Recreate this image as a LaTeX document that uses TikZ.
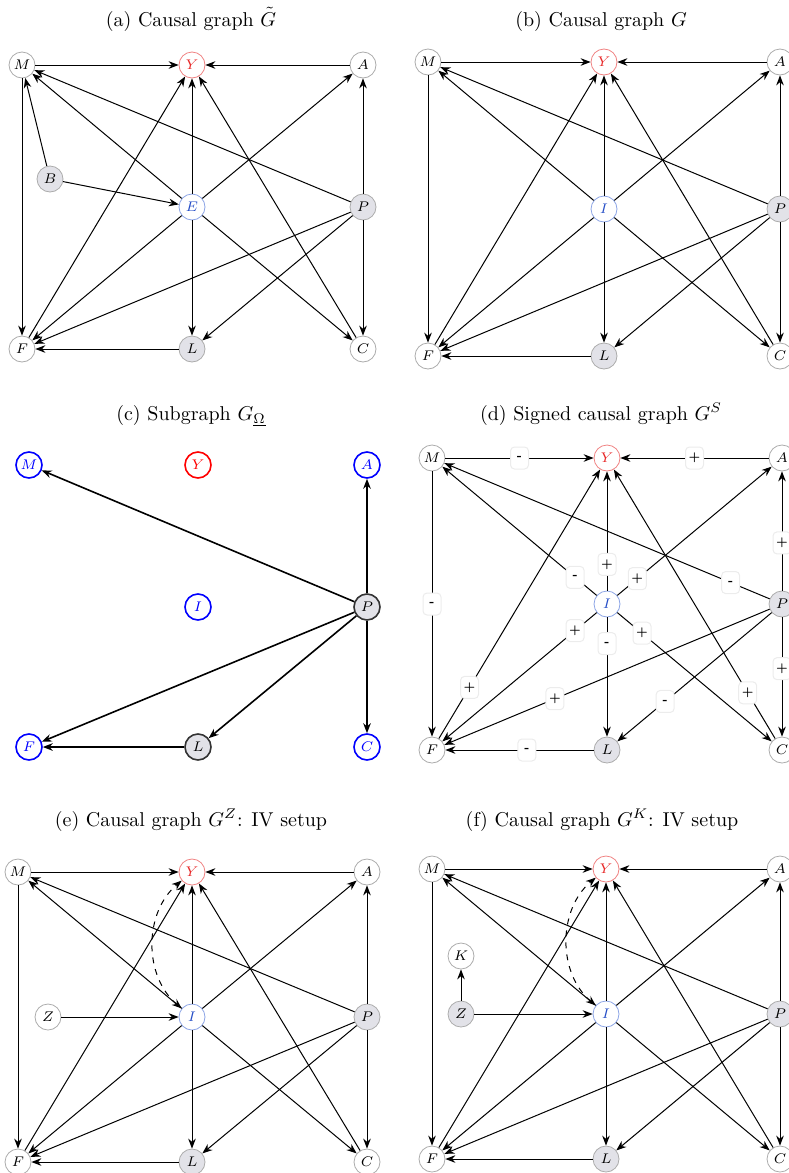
\documentclass[tikz,border=0pt]{standalone}
\usetikzlibrary{arrows.meta}
\definecolor{shade}{RGB}{226,226,232}
\definecolor{ycol}{RGB}{232,40,40}
\definecolor{yedge}{RGB}{240,130,130}
\definecolor{icol}{RGB}{40,80,200}
\definecolor{iedge}{RGB}{140,165,230}
\newcommand\StdEdges[2]{%
 \draw[arr] (#1M) -- (#1Y);
 \draw[arr] (#1A) -- (#1Y);
 \draw[arr] (#1M) -- (#1F);
 \draw[arr] (#1#2) -- (#1M);
 \draw[arr] (#1P) -- (#1M);
 \draw[arr] (#1#2) -- (#1Y);
 \draw[arr] (#1#2) -- (#1A);
 \draw[arr] (#1P) -- (#1A);
 \draw[arr] (#1#2) -- (#1F);
 \draw[arr] (#1#2) -- (#1L);
 \draw[arr] (#1#2) -- (#1C);
 \draw[arr] (#1P) -- (#1F);
 \draw[arr] (#1P) -- (#1L);
 \draw[arr] (#1P) -- (#1C);
 \draw[arr] (#1F) -- (#1Y);
 \draw[arr] (#1C) -- (#1Y);
 \draw[arr] (#1L) -- (#1F);
}
\begin{document}
\begin{tikzpicture}[x=0.5pt,y=-0.5pt,
 vtx/.style={circle, draw=gray!65, fill=white, minimum size=13pt, inner sep=0pt, line width=0.4pt, font=\fontsize{6.8}{8}\selectfont},
 obs/.style={vtx, fill=shade},
 outc/.style={vtx, draw=yedge, text=ycol},
 trt/.style={vtx, draw=iedge, text=icol},
 cvtx/.style={vtx, draw=blue, text=blue, line width=0.8pt},
 cout/.style={vtx, draw=red, text=red, line width=0.8pt},
 cobs/.style={vtx, fill=shade, draw=black!80, line width=0.8pt},
 arr/.style={-{Stealth[length=5pt,width=3.8pt]}, line width=0.5pt},
 carr/.style={-{Stealth[length=5pt,width=3.8pt]}, line width=0.8pt},
 dbl/.style={{Stealth[length=5pt,width=3.8pt]}-{Stealth[length=5pt,width=3.8pt]}, line width=0.5pt, dashed},
 sgn/.style={fill=white, draw=gray!15, rounded corners=2pt, inner sep=1pt, minimum width=9pt, minimum height=11pt, font=\fontsize{5.5}{6}\selectfont\bfseries},
 ttl/.style={anchor=base, font=\fontsize{10}{12}\selectfont}
]
\useasboundingbox (0,0) rectangle (788,1173);

% ---------- (a)
\node[ttl] (ta) at (191,26) {(a) Causal graph $\tilde{G}$};
\node[vtx] (aM) at (22,65) {$M$};
\node[outc] (aY) at (192,65) {$Y$};
\node[vtx] (aA) at (363,65) {$A$};
\node[obs] (aB) at (50,179) {$B$};
\node[trt] (aE) at (192,207) {$E$};
\node[obs] (aP) at (363,207) {$P$};
\node[vtx] (aF) at (22,349) {$F$};
\node[obs] (aL) at (192,349) {$L$};
\node[vtx] (aC) at (363,349) {$C$};
\StdEdges{a}{E}
\draw[arr] (aB) -- (aM);
\draw[arr] (aB) -- (aE);

% ---------- (b)
\node[ttl] (tb) at (601,26) {(b) Causal graph $G$};
\node[vtx] (bM) at (428,62) {$M$};
\node[outc] (bY) at (604,62) {$Y$};
\node[vtx] (bA) at (780,62) {$A$};
\node[trt] (bI) at (604,209) {$I$};
\node[obs] (bP) at (780,209) {$P$};
\node[vtx] (bF) at (428,356) {$F$};
\node[obs] (bL) at (604,356) {$L$};
\node[vtx] (bC) at (780,356) {$C$};
\StdEdges{b}{I}

% ---------- (c)
\node[ttl] (tc) at (191,420) {(c) Subgraph $G_{\underline{\Omega}}$};
\node[cvtx] (cM) at (29,465) {$M$};
\node[cout] (cY) at (198,465) {$Y$};
\node[cvtx] (cA) at (367,465) {$A$};
\node[cvtx] (cI) at (198,607) {$I$};
\node[cobs] (cP) at (367,607) {$P$};
\node[cvtx] (cF) at (29,747) {$F$};
\node[cobs] (cL) at (198,747) {$L$};
\node[cvtx] (cC) at (367,747) {$C$};
\draw[carr] (cP) -- (cM);
\draw[carr] (cP) -- (cA);
\draw[carr] (cP) -- (cF);
\draw[carr] (cP) -- (cL);
\draw[carr] (cP) -- (cC);
\draw[carr] (cL) -- (cF);

% ---------- (d)
\node[ttl] (td) at (601,420) {(d) Signed causal graph $G^S$};
\node[vtx] (dM) at (432,458) {$M$};
\node[outc] (dY) at (607,458) {$Y$};
\node[vtx] (dA) at (782,458) {$A$};
\node[trt] (dI) at (607,604) {$I$};
\node[obs] (dP) at (782,604) {$P$};
\node[vtx] (dF) at (432,750) {$F$};
\node[obs] (dL) at (607,750) {$L$};
\node[vtx] (dC) at (782,750) {$C$};
\draw[arr] (dM) -- node[sgn, pos=0.5] {-} (dY);
\draw[arr] (dA) -- node[sgn, pos=0.5] {+} (dY);
\draw[arr] (dM) -- node[sgn, pos=0.5] {-} (dF);
\draw[arr] (dI) -- node[sgn, pos=0.14] {-} (dM);
\draw[arr] (dP) -- node[sgn, pos=0.12] {-} (dM);
\draw[arr] (dI) -- node[sgn, pos=0.22] {+} (dY);
\draw[arr] (dI) -- node[sgn, pos=0.13] {+} (dA);
\draw[arr] (dP) -- node[sgn, pos=0.4] {+} (dA);
\draw[arr] (dI) -- node[sgn, pos=0.14] {+} (dF);
\draw[arr] (dI) -- node[sgn, pos=0.22] {-} (dL);
\draw[arr] (dI) -- node[sgn, pos=0.16] {+} (dC);
\draw[arr] (dP) -- node[sgn, pos=0.66] {+} (dF);
\draw[arr] (dP) -- node[sgn, pos=0.69] {-} (dL);
\draw[arr] (dP) -- node[sgn, pos=0.43] {+} (dC);
\draw[arr] (dF) -- node[sgn, pos=0.19] {+} (dY);
\draw[arr] (dC) -- node[sgn, pos=0.17] {+} (dY);
\draw[arr] (dL) -- node[sgn, pos=0.45] {-} (dF);

% ---------- (e)
\node[ttl] (te) at (191,826) {(e) Causal graph $G^Z$: IV setup};
\node[vtx] (eM) at (18,872) {$M$};
\node[outc] (eY) at (192,872) {$Y$};
\node[vtx] (eA) at (367,872) {$A$};
\node[vtx] (eZ) at (48,1017) {$Z$};
\node[trt] (eI) at (192,1017) {$I$};
\node[obs] (eP) at (367,1017) {$P$};
\node[vtx] (eF) at (18,1162) {$F$};
\node[obs] (eL) at (192,1162) {$L$};
\node[vtx] (eC) at (367,1162) {$C$};
\StdEdges{e}{I}
\draw[arr] (eZ) -- (eI);
\draw[dbl] (eI) to[bend left=50] (eY);

% ---------- (f)
\node[ttl] (tf) at (602,826) {(f) Causal graph $G^K$: IV setup};
\node[vtx] (fM) at (432,869) {$M$};
\node[outc] (fY) at (606,869) {$Y$};
\node[vtx] (fA) at (780,869) {$A$};
\node[vtx] (fK) at (461,956) {$K$};
\node[obs] (fZ) at (461,1014) {$Z$};
\node[trt] (fI) at (606,1014) {$I$};
\node[obs] (fP) at (780,1014) {$P$};
\node[vtx] (fF) at (432,1159) {$F$};
\node[obs] (fL) at (606,1159) {$L$};
\node[vtx] (fC) at (780,1159) {$C$};
\StdEdges{f}{I}
\draw[arr] (fZ) -- (fI);
\draw[arr] (fZ) -- (fK);
\draw[dbl] (fI) to[bend left=50] (fY);
\end{tikzpicture}
\end{document}
